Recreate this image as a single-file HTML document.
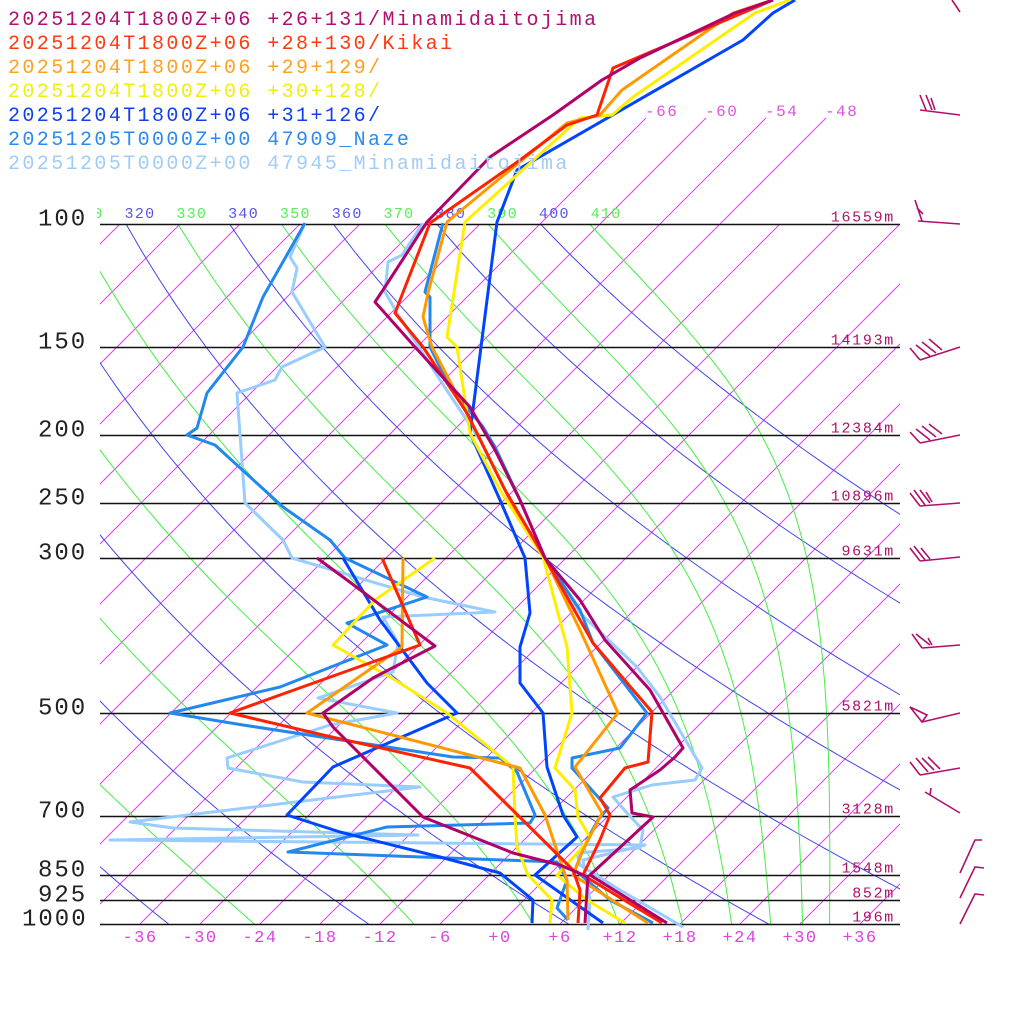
<!DOCTYPE html>
<html><head><meta charset="utf-8">
<style>
html,body{margin:0;padding:0;background:#fff;}
svg{display:block;}
text{font-family:"Liberation Mono",monospace;}
</style></head>
<body>
<svg id="s" width="1024" height="1024" viewBox="0 0 1024 1024" xmlns="http://www.w3.org/2000/svg">
<defs><clipPath id="pc"><rect x="100" y="224" width="800" height="700"/></clipPath>
<clipPath id="tc"><rect x="97" y="190" width="810" height="40"/></clipPath></defs>
<g id="bg" clip-path="url(#pc)" fill="none" stroke-width="1"></g>
<g id="ext" fill="none" stroke="#dd44ee" stroke-width="1"></g>
<g id="hl" stroke="#111" stroke-width="1.5"></g>
<g id="lab"></g>
<g fill="none" stroke-width="3" stroke-linejoin="round">
<polyline stroke="#99ccff" points="423,223 402,255 388,262 385,292 397,313 440,380 480,440 500,480 520,520 545,558 580,613 637,667 660,697 702,768 695,780 652,785 613,797 627,813 643,830 640,848 577,853 580,865 620,890 683,927"/>
<polyline stroke="#99ccff" points="305,223 290,257 297,268 292,292 325,347 282,367 275,380 237,393 245,503 283,540 292,558 423,597 495,612 383,617 398,643 393,672 318,698 397,713 330,725 227,758 228,768 303,782 420,787 130,822 173,828 418,835 110,840 645,845 583,860 590,900 588,930"/>
<polyline stroke="#2288ee" points="443,223 425,292 430,297 430,347 450,387 483,427 495,447 520,500 545,558 580,610 593,643 647,713 620,748 572,758 572,768 608,808 598,820 587,840 575,870 610,900 653,923"/>
<polyline stroke="#2288ee" points="305,223 263,297 243,347 207,393 197,428 187,435 215,445 283,507 330,540 345,558 427,597 347,623 387,645 280,687 170,713 243,725 453,757 500,758 517,772 535,815 530,823 387,827 288,852 557,862 567,880 557,908 568,920"/>
<polyline stroke="#0044ff" points="795,0 773,13 743,40 517,170 497,222 470,433 500,500 525,558 530,613 520,647 520,683 543,713 547,767 563,815 577,837 535,875 603,923"/>
<polyline stroke="#0044ff" points="343,558 380,620 427,683 457,713 333,767 287,815 340,832 440,857 500,873 533,900 532,923"/>
<polyline stroke="#ffee00" points="790,0 755,13 633,97 612,115 580,118 465,222 447,337 457,347 470,433 500,490 543,557 567,647 572,713 555,768 575,790 578,817 590,837 580,850 557,875 587,900 625,923"/>
<polyline stroke="#ffee00" points="435,558 375,600 333,645 395,680 447,713 513,767 515,817 517,847 528,875 552,900 550,923"/>
<polyline stroke="#ff9900" points="773,0 733,13 622,90 600,115 567,123 447,222 428,293 423,317 432,347 477,433 510,500 545,558 580,630 618,713 575,767 602,813 583,850 573,875 648,923"/>
<polyline stroke="#ff9900" points="403,558 402,647 307,713 520,768 545,815 560,860 567,880 568,920"/>
<polyline stroke="#ff2200" points="773,0 613,68 597,115 567,125 520,160 430,223 395,313 423,347 467,413 505,490 545,558 593,643 652,712 648,762 625,768 600,798 610,815 600,840 583,875 662,923"/>
<polyline stroke="#ff2200" points="382,558 420,645 280,695 230,713 323,735 470,768 553,850 573,870 580,890 578,923"/>
<polyline stroke="#b0006a" points="773,0 735,13 640,58 602,80 553,115 490,157 427,222 383,290 375,302 415,347 470,407 495,450 520,500 545,558 580,600 605,640 650,690 683,748 675,757 660,770 630,790 632,813 653,817 590,875 667,923"/>
<polyline stroke="#b0006a" points="317,558 347,580 435,646 373,678 323,713 333,727 423,817 513,853 560,865 588,877 587,890 585,923"/>
</g>
<g stroke="#b0106a" stroke-width="1.6" fill="none">
<path d="M952,0 L960,12"/>
<path d="M920,110 L960,115 M920,95 L926,110 M926,95 L932,110 M931,98 L935,110"/>
<path d="M918,221 L960,224 M915,200 L922,221 M917,208 L923,214"/>
<path d="M920,360 L960,347 M910,348 L920,360 M916,345 L930,356 M922,342 L936,353 M929,339 L942,350"/>
<path d="M920,443 L960,435 M910,432 L920,443 M916,429 L930,440 M922,426 L936,437 M929,424 L942,434"/>
<path d="M920,506 L960,503 M910,493 L920,506 M914,490 L925,505 M920,490 L930,503 M926,492 L932,502"/>
<path d="M920,561 L960,557 M910,548 L920,561 M914,546 L925,560 M921,548 L930,559"/>
<path d="M922,648 L960,645 M912,634 L922,648 M916,634 L930,645 M928,638 L932,645"/>
<path d="M922,722 L960,713 M910,707 L922,722 L927,715 Z"/>
<path d="M920,775 L960,768 M910,762 L920,775 M916,758 L928,772 M922,758 L934,770 M928,757 L940,769"/>
<path d="M925,792 L960,813 M930,795 L931,788"/>
<path d="M960,873 L975,840 L982,840"/>
<path d="M960,898 L975,867 L984,868"/>
<path d="M960,924 L975,894 L984,895"/>
</g>
<g font-size="20" letter-spacing="2.4">
<text x="8" y="25" fill="#b0106e">20251204T1800Z+06 +26+131/Minamidaitojima</text>
<text x="8" y="49" fill="#ff3a10">20251204T1800Z+06 +28+130/Kikai</text>
<text x="8" y="73" fill="#ffa020">20251204T1800Z+06 +29+129/</text>
<text x="8" y="97" fill="#eeee10">20251204T1800Z+06 +30+128/</text>
<text x="8" y="121" fill="#1040ee">20251204T1800Z+06 +31+126/</text>
<text x="8" y="145" fill="#2a8af0">20251205T0000Z+00 47909_Naze</text>
<text x="8" y="169" fill="#a0ccf8">20251205T0000Z+00 47945_Minamidaitojima</text>
</g>
</svg>
<script>
(function(){
var NS="http://www.w3.org/2000/svg";
function Y(p){return 924-700*Math.log10(1000/p);}
function X(T,y){return 500+10*T+(924-y);}
function el(par,tag,at,txt){var e=document.createElementNS(NS,tag);for(var k in at)e.setAttribute(k,at[k]);if(txt!==undefined)e.textContent=txt;document.getElementById(par).appendChild(e);return e;}
var ps=[];for(var p=1050;p>=90;p-=10)ps.push(p);
var d="";for(var T=-150;T<=50;T+=6){var y1=924,y2=224;d+="M"+X(T,y1)+","+y1+"L"+X(T,y2)+","+y2;}
el("bg","path",{d:d,stroke:"#dd44ee"});
var de="";[-66,-60,-54,-48].forEach(function(T){de+="M"+X(T,224)+",224L"+X(T,118)+",118";});
el("ext","path",{d:de});
d="";for(var th=200;th<=400;th+=20){var s="";ps.forEach(function(p,i){var T=th*Math.pow(p/1000,0.2857)-273.15;var y=Y(p);s+=(i?"L":"M")+X(T,y).toFixed(1)+","+y.toFixed(1);});d+=s;}
el("bg","path",{d:d,stroke:"#4444ee"});
function the(T,p){var tc=T-273.15;var es=6.112*Math.exp(17.67*tc/(tc+243.5));var rs=0.622*es/Math.max(p-es,1);return T*Math.pow(1000/p,0.2857)*Math.exp(2.73e6*rs/(1004*T));}
d="";for(var te=210;te<=410;te+=20){var s="";ps.forEach(function(p,i){var lo=120,hi=340;for(var k=0;k<50;k++){var m=(lo+hi)/2;if(the(m,p)>te)hi=m;else lo=m;}var T=lo-273.15;var y=Y(p);s+=(i?"L":"M")+X(T,y).toFixed(1)+","+y.toFixed(1);});d+=s;}
el("bg","path",{d:d,stroke:"#44ee44"});
var pl=[[100,"100",38,"16559m"],[150,"150",38,"14193m"],[200,"200",38,"12384m"],[250,"250",38,"10896m"],[300,"300",38,"9631m"],[500,"500",38,"5821m"],[700,"700",38,"3128m"],[850,"850",38,"1548m"],[925,"925",38,"852m"],[1000,"1000",22,"196m"]];
pl.forEach(function(a){var y=Math.round(Y(a[0]))+0.5;el("hl","line",{x1:100,x2:900,y1:y,y2:y});
el("lab","text",{x:a[2],y:y+1,"font-size":24,"letter-spacing":2,fill:"#222"},a[1]);
el("lab","text",{x:895,y:y-3,"font-size":15,"letter-spacing":1.7,fill:"#b0106a","text-anchor":"end"},a[3]);});
for(var T=-36;T<=36;T+=6){var t=(T<0?"-":"+")+Math.abs(T);el("lab","text",{x:500+10*T,y:942,"font-size":17,"letter-spacing":1.5,fill:"#dd44dd","text-anchor":"middle"},t);}
[-66,-60,-54,-48].forEach(function(T){el("lab","text",{x:X(T,118)-1,y:116,"font-size":16,"letter-spacing":1.5,fill:"#dd55dd"},String(T));});
for(var th=310;th<=410;th+=10){var T=th*Math.pow(0.1,0.2857)-273.15;var x=X(T,224)+14;el("lab","text",{x:x,y:218,"font-size":15,"letter-spacing":1.3,fill:(th%20==0?"#5555ee":"#55ee55"),"text-anchor":"middle","clip-path":"url(#tc)"},String(th));}
})();
</script>
</body></html>
